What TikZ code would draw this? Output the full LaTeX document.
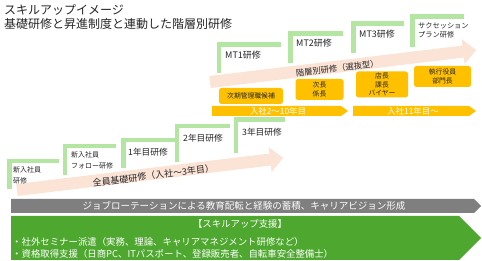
\documentclass[tikz,border=0pt]{standalone}
\usepackage{fontspec}
\setmainfont{Noto Sans CJK JP}
\definecolor{lgreen}{HTML}{B4E5A2}
\definecolor{pinkarr}{HTML}{FBE3D6}
\definecolor{gold}{HTML}{FFC000}
\definecolor{dgreen}{HTML}{4EA72E}
\definecolor{barGray}{HTML}{7F7F7F}
\definecolor{txt}{HTML}{262626}
\tikzset{
  stepline/.style={draw=lgreen, line width=4.8pt, line cap=butt, line join=miter},
  steplabel/.style={anchor=west, inner sep=0pt, text=txt, font=\fontsize{8.7}{10}\selectfont},
  smalllabel/.style={anchor=west, inner sep=0pt, text=txt, align=left, font=\fontsize{7}{11.5}\selectfont},
  goldbox/.style={fill=gold, rounded corners=2.5pt, inner sep=0pt, text=txt, align=center, font=\fontsize{6.8}{8.3}\selectfont},
  chevtext/.style={inner sep=0pt, text=white, font=\fontsize{8.4}{10}\selectfont},
  arrtext/.style={inner sep=0pt, text=txt, rotate=6.86},
  bandtext/.style={inner sep=0pt, text=white, font=\fontsize{9.4}{11}\selectfont},
  titletext/.style={anchor=west, inner sep=0pt, text=txt, font=\fontsize{12}{14}\selectfont},
}
\begin{document}
\begin{tikzpicture}[x=1pt,y=-1pt]
\useasboundingbox[fill=white] (0,0) rectangle (482,261);

% title
\node[titletext] (t1) at (4,10) {スキルアップイメージ};
\node[titletext] (t2) at (4,24) {基礎研修と昇進制度と連動した階層別研修};

% pink arrows
\begin{scope}[shift={(17,190)}, rotate=6.86]
  \fill[pinkarr] (0,-6) -- (255,-6) -- (255,-12.5) -- (268,0) -- (255,12.5) -- (255,6) -- (0,6) -- cycle;
  \node[arrtext, font=\fontsize{9}{10}\selectfont] (a1) at (137,2) {全員基礎研修（入社～3年目）};
\end{scope}
\begin{scope}[shift={(210,82)}, rotate=6.86]
  \fill[pinkarr] (0,-6) -- (255,-6) -- (255,-12.5) -- (268,0) -- (255,12.5) -- (255,6) -- (0,6) -- cycle;
  \node[arrtext, font=\fontsize{8.3}{10}\selectfont] (a2) at (128,1.5) {階層別研修（選抜型）};
\end{scope}

% steps
\draw[stepline] (9.5,189) -- (9.5,161) -- (59,161);
\draw[stepline] (65,175) -- (65,146) -- (116,146);
\draw[stepline] (123.5,168) -- (123.5,140) -- (175,140);
\draw[stepline] (177,162) -- (177,126) -- (230,126);
\draw[stepline] (236,153) -- (236,119.5) -- (285,119.5);
\draw[stepline] (219,73) -- (219,44.5) -- (281,44.5);
\draw[stepline] (290.5,63) -- (290.5,33.5) -- (343,33.5);
\draw[stepline] (353.5,53) -- (353.5,23.5) -- (404,23.5);
\draw[stepline] (412.5,47) -- (412.5,16.5) -- (464,16.5);

% step labels
\node[smalllabel] (s1) at (13,175.5) {新入社員\\研修};
\node[smalllabel] (s2) at (71,160.5) {新入社員\\フォロー研修};
\node[steplabel] (s3) at (128,152) {1年目研修};
\node[steplabel] (s4) at (183,138.5) {2年目研修};
\node[steplabel] (s5) at (242,132) {3年目研修};
\node[steplabel, font=\fontsize{9}{10}\selectfont] (m1) at (225,55) {MT1研修};
\node[steplabel, font=\fontsize{9}{10}\selectfont] (m2) at (296,43) {MT2研修};
\node[steplabel, font=\fontsize{9}{10}\selectfont] (m3) at (359,34) {MT3研修};
\node[smalllabel, font=\fontsize{7.2}{9}\selectfont] (sp) at (418,30.5) {サクセッション\\プラン研修};

% gold boxes
\node[goldbox, minimum width=64pt, minimum height=16pt] (b1) at (251,96) {次期管理職候補};
\node[goldbox, minimum width=48pt, minimum height=21pt] (b2) at (319.5,89.5) {次長\\係長};
\node[goldbox, minimum width=52pt, minimum height=26pt] (b3) at (382,84.5) {店長\\課長\\バイヤー};
\node[goldbox, minimum width=57pt, minimum height=21pt] (b4) at (442.5,76.5) {執行役員\\部門長};

% gold chevrons
\fill[gold] (212,106) -- (341,106) -- (348,111) -- (341,116) -- (212,116) -- cycle;
\node[chevtext] (c1) at (278,111) {入社2～10年目};
\fill[gold] (353,106) -- (469,106) -- (476,111) -- (469,116) -- (353,116) -- cycle;
\node[chevtext] (c2) at (413,111) {入社11年目～};

% gray band
\fill[barGray] (11,199) -- (474,199) -- (481,206) -- (474,213) -- (11,213) -- cycle;
\node[bandtext, font=\fontsize{9.5}{11}\selectfont] (g1) at (244,206) {ジョブローテーションによる教育配転と経験の蓄積、キャリアビジョン形成};

% green block
\fill[dgreen] (11,216) -- (459,216) -- (481,238) -- (459,260) -- (11,260) -- cycle;
\node[bandtext] (h1) at (240,223.5) {【スキルアップ支援】};
\node[bandtext, anchor=west] (l1) at (12,242) {・社外セミナー派遣（実務、理論、キャリアマネジメント研修など）};
\node[bandtext, anchor=west] (l2) at (12,253.5) {・資格取得支援（日商PC、ITパスポート、登録販売者、自転車安全整備士）};
\end{tikzpicture}
\end{document}
